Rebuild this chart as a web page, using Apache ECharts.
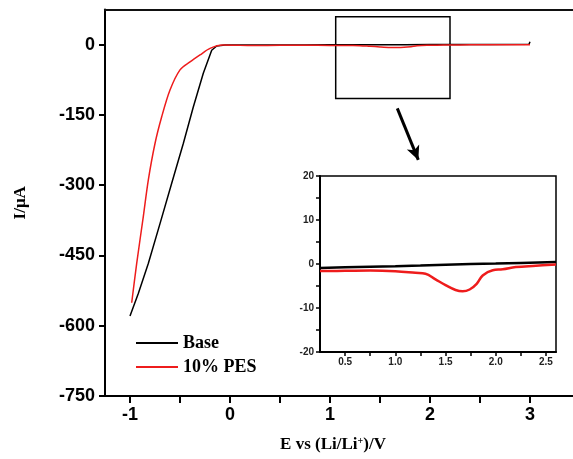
<!DOCTYPE html>
<html lang="en">
<head>
	<meta charset="UTF-8">
	<title>CV</title>
	<script src="https://cdn.jsdelivr.net/npm/echarts@6/dist/echarts.min.js"></script>
	<style>
		html,body{margin:0;padding:0;background:#fff;}
	</style>
</head>
<body>
	<div id="chart" style="width:573px; height:459px;"></div>
<script>
	// main sweep, cathodic part (E in V, I in uA)
	var baseE=[-1.0,-0.917,-0.817,-0.7,-0.583,-0.467,-0.367,-0.267,-0.183,-0.133,-0.05,0.1];
	var baseI=[-579,-531,-467,-382,-296,-211,-133,-61,-12,-3,-1,-0.9];
	var pesE=[-0.983,-0.933,-0.867,-0.817,-0.75,-0.683,-0.6,-0.5,-0.4,-0.3,-0.2,-0.07,0.1];
	var pesI=[-551,-467,-367,-289,-211,-154,-97,-54,-37,-22,-8,-1,-1.5];
	// tail after the zoomed window
	var baseTailE=[2.99,3.0];
	var baseTailI=[0.8,6];
	var pesTailE=[3.0];
	var pesTailI=[0];

	// zoomed window 0.25-2.6 V
	var insetBaseE=[0.25,0.5,0.75,1.0,1.25,1.5,1.75,2.0,2.25,2.6];
	var insetBaseI=[-0.9,-0.75,-0.62,-0.5,-0.35,-0.15,0.0,0.1,0.25,0.45];
	var insetPesE=[0.25,0.5,0.75,1.0,1.2,1.3,1.4,1.5,1.6,1.67,1.74,1.81,1.87,1.97,2.07,2.2,2.4,2.6];
	var insetPesI=[-1.6,-1.55,-1.5,-1.65,-2.0,-2.2,-3.5,-4.8,-5.9,-6.2,-5.8,-4.5,-2.6,-1.4,-1.2,-0.7,-0.4,-0.1];

	var xTicks=[-1,-0.5,0,0.5,1,1.5,2,2.5,3];
	var xLabels=[-1,0,1,2,3];
	var yTicks=[0,-150,-300,-450,-600,-750];
	var insetXTicks=[0.5,0.75,1.0,1.25,1.5,1.75,2.0,2.25,2.5];
	var insetXLabels=[0.5,1.0,1.5,2.0,2.5];
	var insetYTicks=[-20,-15,-10,-5,0,5,10,15,20];
	var insetYLabels=[-20,-10,0,10,20];

	var zoomBox=[[1.057,59.3],[2.2,-114.8]];
	var arrowFrom=[1.673,-136];
	var arrowTo=[1.883,-246];

	var RED='#ee1c1c';

	function pairs(xs,ys){
		var out=[];
		for (var i = 0; i < xs.length; i++) { out.push([xs[i],ys[i]]); };
		return out;
	}

	var sans='"Liberation Sans", Arial, sans-serif';
	var serif='"Liberation Serif", "Times New Roman", serif';

	var option={
		animation:false,
		backgroundColor:'#fff',
		grid:[
			{left:105,top:9.5,right:0,bottom:63},
			{left:320,top:176,right:17,bottom:107,show:true,borderColor:'#000',borderWidth:1.5,backgroundColor:'transparent'}
		],
		legend:{
			orient:'vertical',left:131,top:329,itemWidth:42,itemHeight:2,itemGap:6,icon:'rect',
			data:['Base','10% PES'],
			textStyle:{fontFamily:serif,fontWeight:'bold',fontSize:18,color:'#000'}
		},
		xAxis:[{
			gridIndex:0,type:'value',min:-1.25,max:3.43,
			name:'{a|E vs (Li/Li}{s|+}{a|)/V}',nameLocation:'middle',nameGap:40,
			nameTextStyle:{padding:[0,12,0,0],rich:{
				a:{fontFamily:serif,fontWeight:'bold',fontSize:17,color:'#000'},
				s:{fontFamily:serif,fontWeight:'bold',fontSize:10,color:'#000',verticalAlign:'top',padding:[0,0,8,0]}
			}},
			axisLine:{onZero:false,lineStyle:{color:'#000',width:2}},
			axisTick:{inside:false,length:7,lineStyle:{width:2},customValues:xTicks},
			axisLabel:{customValues:xLabels,margin:10,fontFamily:sans,fontWeight:'bold',fontSize:18,color:'#000'},
			splitLine:{show:false}
		},{
			gridIndex:1,type:'value',min:0.25,max:2.6,
			axisLine:{onZero:false,lineStyle:{color:'#000',width:2}},
			axisTick:{length:4,lineStyle:{width:1.5},customValues:insetXTicks},
			axisLabel:{customValues:insetXLabels,margin:5,fontFamily:sans,fontWeight:'bold',fontSize:10,color:'#222',
				formatter:function(v){return v.toFixed(1)}},
			splitLine:{show:false}
		},{
			// top frame line of the main plot
			gridIndex:0,type:'value',position:'top',min:-1.25,max:3.43,
			axisLine:{onZero:false,lineStyle:{color:'#111',width:2}},
			axisTick:{show:false},axisLabel:{show:false},splitLine:{show:false}
		}],
		yAxis:[{
			gridIndex:0,type:'value',min:-750,max:75,
			name:'I/μA',nameLocation:'middle',nameGap:76,nameRotate:90,
			nameTextStyle:{fontFamily:serif,fontWeight:'bold',fontSize:17,color:'#000'},
			axisLine:{onZero:false,lineStyle:{color:'#000',width:2}},
			axisTick:{length:6,lineStyle:{width:2},customValues:yTicks},
			axisLabel:{customValues:yTicks,margin:10,fontFamily:sans,fontWeight:'bold',fontSize:18,color:'#000'},
			splitLine:{show:false}
		},{
			gridIndex:1,type:'value',min:-20,max:20,
			axisLine:{onZero:false,lineStyle:{color:'#000',width:2}},
			axisTick:{length:4,lineStyle:{width:1.5},customValues:insetYTicks},
			axisLabel:{customValues:insetYLabels,margin:6,fontFamily:sans,fontWeight:'bold',fontSize:10,color:'#222'},
			splitLine:{show:false}
		}],
		series:[{
			name:'Base',type:'line',xAxisIndex:0,yAxisIndex:0,symbol:'none',
			lineStyle:{color:'#000',width:1.5},itemStyle:{color:'#000'},
			data:pairs(baseE.concat(insetBaseE,baseTailE),baseI.concat(insetBaseI,baseTailI))
		},{
			name:'10% PES',type:'line',xAxisIndex:0,yAxisIndex:0,symbol:'none',smooth:0.3,
			lineStyle:{color:RED,width:1.5},itemStyle:{color:RED},
			data:pairs(pesE.concat(insetPesE,pesTailE),pesI.concat(insetPesI,pesTailI)),
			markArea:{
				silent:true,
				itemStyle:{color:'rgba(0,0,0,0)',borderColor:'#000',borderWidth:1.5},
				data:[[{coord:zoomBox[0]},{coord:zoomBox[1]}]]
			},
			markLine:{
				silent:true,symbol:['none','arrow'],symbolSize:[10,14],
				label:{show:false},
				lineStyle:{color:'#000',width:3,type:'solid'},
				data:[[{coord:arrowFrom},{coord:arrowTo}]]
			}
		},{
			name:'Base',type:'line',xAxisIndex:1,yAxisIndex:1,symbol:'none',
			lineStyle:{color:'#000',width:2.5},itemStyle:{color:'#000'},
			data:pairs(insetBaseE,insetBaseI)
		},{
			name:'10% PES',type:'line',xAxisIndex:1,yAxisIndex:1,symbol:'none',smooth:0.4,
			lineStyle:{color:RED,width:2.5},itemStyle:{color:RED},
			data:pairs(insetPesE,insetPesI)
		}]
	};
	var myChart=echarts.init(document.getElementById('chart'));
	myChart.setOption(option);
</script>
</body>
</html>
